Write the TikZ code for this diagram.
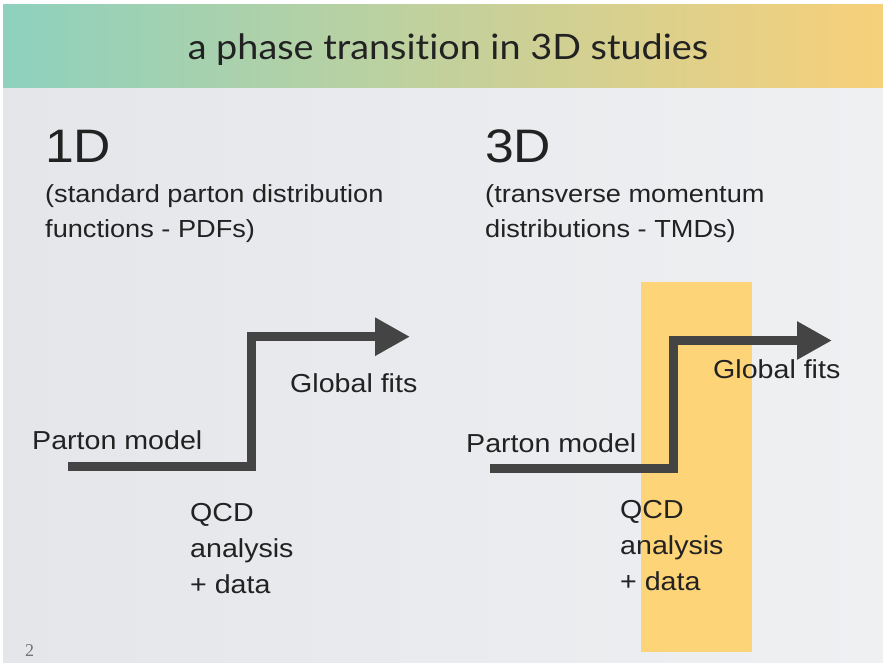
\documentclass[tikz,border=0pt]{standalone}
\usepackage{fontspec}
\setmainfont{Liberation Sans}[FakeStretch=1.1]
\newfontfamily\titlefont{Lato}[FakeStretch=1.08, Ligatures=NoCommon]
\newfontfamily\numfont{Liberation Serif}
\usetikzlibrary{arrows.meta}
\definecolor{barL}{HTML}{8ED1BE}
\definecolor{barM}{HTML}{C5E09B}
\definecolor{barR}{HTML}{F7D07A}
\definecolor{bgL}{HTML}{E4E6EA}
\definecolor{bgR}{HTML}{EFF0F2}
\definecolor{arrowgray}{HTML}{444444}
\definecolor{hilite}{HTML}{FED478}
\definecolor{txt}{HTML}{222222}
\tikzset{
  lbl/.style={inner sep=0pt, text=txt, font=\fontsize{26}{36}\selectfont, align=left},
  sub/.style={inner sep=0pt, text=txt, font=\fontsize{24.7}{35}\selectfont, align=left},
  big/.style={inner sep=0pt, text=txt, font=\fontsize{47}{50}\selectfont},
  bigarrow/.style={draw=arrowgray, line width=9pt, line join=miter, line cap=butt,
    -{Triangle[length=35pt,width=36pt]}}
}
\begin{document}
\begin{tikzpicture}[x=1pt,y=-1pt]
\useasboundingbox (0,0) rectangle (883,663);
\fill[white] (0,0) rectangle (883,663);
% backgrounds
\shade[left color=bgL, right color=bgR] (3,88) rectangle (883,663);
\shade[left color=barL, middle color=barM, right color=barR] (3,5) rectangle (883,88);
\node[inner sep=0pt, text=txt, font=\titlefont\fontsize{35}{40}\selectfont, anchor=base] (title) at (448,60) {a phase transition in 3D studies};
% highlight
\fill[hilite] (641,282) rectangle (752,652);
% left column
\node[big, anchor=base west] (oneD) at (45,163) {1D};
\node[sub, anchor=north west] (oneDsub) at (45,184) {(standard parton distribution\\functions - PDFs)};
\coordinate (Ls) at (68,466.5);
\coordinate (Lb) at (251.5,466.5);
\coordinate (Lt) at (251.5,336.7);
\coordinate (Le) at (410,336.7);
\draw[bigarrow] (Ls) -- (Lb) -- (Lt) -- (Le);
\node[lbl, anchor=base west] (Lpm) at (32,449) {Parton model};
\node[lbl, anchor=base west] (Lgf) at (290,392) {Global fits};
\node[lbl, anchor=north west] (Lqcd) at (190,503) {QCD\\analysis\\+ data};
% right column
\node[big, anchor=base west] (threeD) at (485,163) {3D};
\node[sub, anchor=north west] (threeDsub) at (485,184) {(transverse momentum\\distributions - TMDs)};
\coordinate (Rs) at (490,468.5);
\coordinate (Rb) at (673,468.5);
\coordinate (Rt) at (673,340.5);
\coordinate (Re) at (832,340.5);
\draw[bigarrow] (Rs) -- (Rb) -- (Rt) -- (Re);
\node[lbl, anchor=base west] (Rpm) at (466,452) {Parton model};
\node[lbl, anchor=base west] (Rgf) at (713,378) {Global fits};
\node[lbl, anchor=north west] (Rqcd) at (620,500) {QCD\\analysis\\+ data};
% page number
\node[inner sep=0pt, text=black!55, font=\numfont\fontsize{18}{18}\selectfont, anchor=base west] (pnum) at (25,656) {2};
\end{tikzpicture}
\end{document}
